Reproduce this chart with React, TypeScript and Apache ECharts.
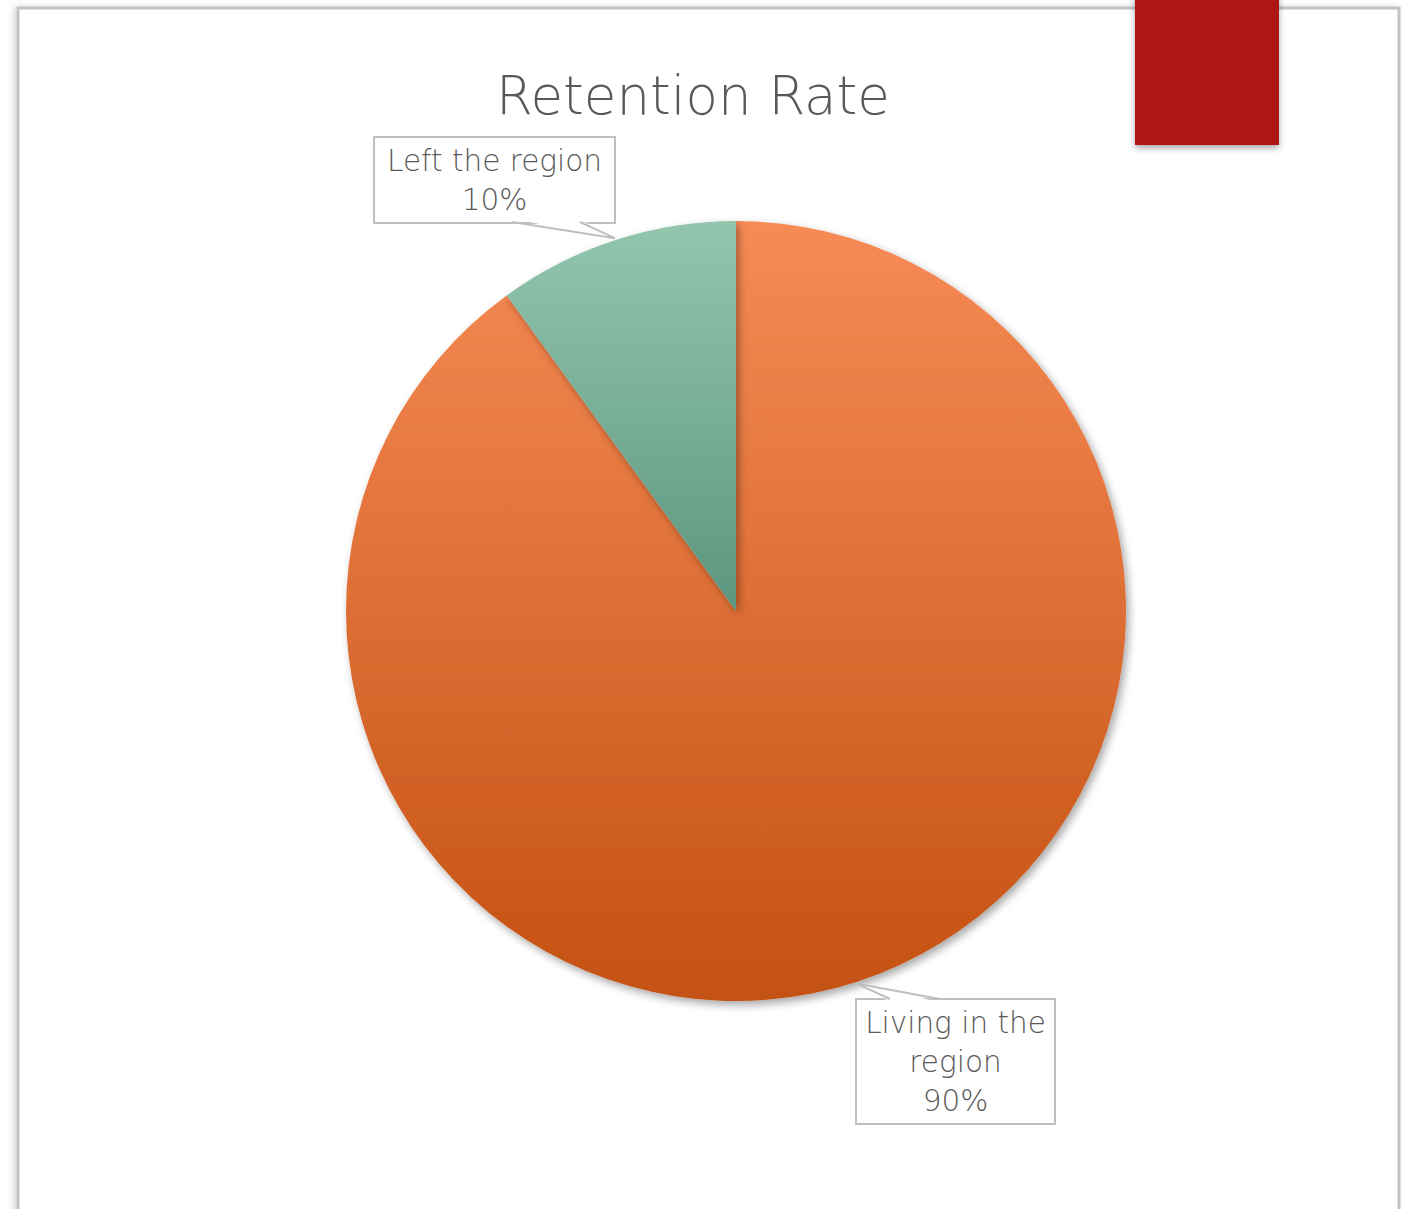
import React, { useEffect, useRef } from "react";
import * as echarts from "echarts";

const categories = ["Living in the region", "Left the region"];
const labelTexts = ["Living in the\nregion", "Left the region"];
const values = [90, 10];
const titleText = "Retention Rate";

const FONT = "'DejaVu Sans', sans-serif";

export default function App() {
  const ref = useRef<HTMLDivElement>(null);
  useEffect(() => {
    if (!ref.current) return;
    const chart = echarts.init(ref.current, null, { renderer: "svg" });
    const gradients = [
      new echarts.graphic.LinearGradient(0, 0, 0, 1, [
        { offset: 0, color: "#F78B56" },
        { offset: 1, color: "#C45112" },
      ]),
      new echarts.graphic.LinearGradient(0, 0, 0, 1, [
        { offset: 0, color: "#94C6AE" },
        { offset: 1, color: "#5C957F" },
      ]),
    ];
    const center = [736, 611];
    const radius = 390;
    // label box centres and box sizes (layout)
    const labelPos = [
      { x: 955.5, y: 1061.5, w: 199, h: 127 },
      { x: 494.5, y: 180, w: 241, h: 86 },
    ];
    // callout pointer base on box edge, as offsets from box left edge
    const pointerBase = [
      { edge: "top", a: 34, b: 84 },
      { edge: "bottom", a: 138, b: 206 },
    ];

    // pointer tips from slice mid-angles
    const total = values.reduce((s, v) => s + v, 0);
    let cum = 0;
    const pointerGraphics: any[] = [];
    values.forEach((v, i) => {
      const midFrac = (cum + v / 2) / total;
      cum += v;
      const ang = ((90 - 360 * midFrac) * Math.PI) / 180;
      const tip = [
        center[0] + (radius + 2) * Math.cos(ang),
        center[1] - (radius + 2) * Math.sin(ang),
      ];
      const lp = labelPos[i];
      const left = lp.x - lp.w / 2;
      const pb = pointerBase[i];
      const y = pb.edge === "top" ? lp.y - lp.h / 2 + 1 : lp.y + lp.h / 2 - 1;
      const inward = pb.edge === "top" ? 3 : -3;
      const p1 = [left + pb.a, y];
      const p2 = [left + pb.b, y];
      pointerGraphics.push({
        type: "polygon",
        z: 100,
        shape: {
          points: [
            [p1[0] + 1, p1[1] + inward],
            tip,
            [p2[0] - 1, p2[1] + inward],
          ],
        },
        style: { fill: "#ffffff" },
      });
      pointerGraphics.push({
        type: "polyline",
        z: 101,
        shape: { points: [p1, tip, p2] },
        style: { stroke: "#bfbfbf", lineWidth: 2, fill: "none" },
      });
    });

    chart.setOption({
      animation: false,
      backgroundColor: "#ffffff",
      title: {
        text: titleText,
        left: 688,
        top: 64,
        textAlign: "center",
        textStyle: {
          fontFamily: FONT,
          fontSize: 53,
          fontWeight: 200,
          color: "#595959",
        },
      },
      graphic: [
        {
          type: "rect",
          z: -10,
          shape: { x: 18, y: 8, width: 1381, height: 1260 },
          style: {
            fill: "#ffffff",
            stroke: "#c2c2c2",
            lineWidth: 3,
            shadowBlur: 6,
            shadowOffsetX: -3,
            shadowColor: "rgba(0,0,0,0.15)",
          },
        },
        {
          type: "rect",
          z: 10,
          shape: { x: 1135, y: -10, width: 144, height: 155 },
          style: {
            fill: "#AE1515",
            shadowBlur: 6,
            shadowOffsetY: 3,
            shadowColor: "rgba(0,0,0,0.35)",
          },
        },
        ...pointerGraphics,
      ],
      series: [
        {
          type: "pie",
          center,
          radius,
          startAngle: 90,
          clockwise: true,
          data: categories.map((name, i) => ({
            name,
            value: values[i],
            itemStyle: {
              color: gradients[i],
              shadowBlur: 8,
              shadowOffsetX: 3,
              shadowOffsetY: 4,
              shadowColor: "rgba(0,0,0,0.35)",
            },
            label: {
              width: labelPos[i].w - 20,
            },
          })),
          label: {
            show: true,
            position: "outside",
            formatter: (p: any) => `${labelTexts[p.dataIndex]}\n${p.percent}%`,
            fontFamily: FONT,
            fontSize: 29.5,
            fontWeight: 200,
            lineHeight: 39,
            overflow: "none",
            color: "#595959",
            align: "center",
            verticalAlign: "middle",
            backgroundColor: "#ffffff",
            borderColor: "#bfbfbf",
            borderWidth: 2,
            padding: [5, 9, 1, 9],
          },
          labelLine: { show: false },
          labelLayout: (params: any) => ({
            x: labelPos[params.dataIndex].x,
            y: labelPos[params.dataIndex].y,
            align: "center",
            verticalAlign: "middle",
          }),
          emphasis: { disabled: true },
        },
      ],
    });
    return () => chart.dispose();
  }, []);
  return (
    <div
      ref={ref}
      style={{ position: "absolute", left: 0, top: 0, width: 1410, height: 1209 }}
    />
  );
}
